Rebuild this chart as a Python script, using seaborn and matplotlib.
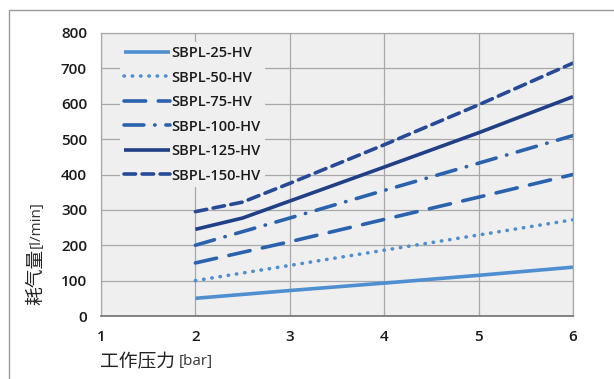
import numpy as np
import pandas as pd
import matplotlib.pyplot as plt
import seaborn as sns
from matplotlib.patches import Rectangle

# pressure [bar] and air consumption [l/min]
pressure = [2, 3, 4, 5, 6]
pressure_kink = [2, 2.5, 3, 4, 5, 6]
sbpl25 = [50, 72, 93, 115, 138]
sbpl50 = [100, 143, 186, 229, 272]
sbpl75 = [150, 210, 273, 336, 400]
sbpl100 = [200, 277, 355, 432, 510]
sbpl125 = [245, 277, 325, 421, 518, 620]
sbpl150 = [295, 322, 375, 484, 597, 715]

names = ['SBPL-25-HV', 'SBPL-50-HV', 'SBPL-75-HV', 'SBPL-100-HV', 'SBPL-125-HV', 'SBPL-150-HV']
xs = [pressure, pressure, pressure, pressure, pressure_kink, pressure_kink]
ys = [sbpl25, sbpl50, sbpl75, sbpl100, sbpl125, sbpl150]

rows = []
for n, x, y in zip(names, xs, ys):
    for a, b in zip(x, y):
        rows.append({'p': a, 'q': b, 'model': n})
df = pd.DataFrame(rows)

colors = {'SBPL-25-HV': '#4f8fd0', 'SBPL-50-HV': '#4f8fd0', 'SBPL-75-HV': '#2a62ad',
          'SBPL-100-HV': '#2a62ad', 'SBPL-125-HV': '#203f86', 'SBPL-150-HV': '#264a98'}
dashes = {'SBPL-25-HV': '', 'SBPL-50-HV': (0.1, 2.2), 'SBPL-75-HV': (6, 3.5),
          'SBPL-100-HV': (5.5, 3, 0.1, 3), 'SBPL-125-HV': '', 'SBPL-150-HV': (3.2, 1.8)}

sns.set_style('white')
plt.rcParams['font.family'] = ['Open Sans', 'Noto Sans CJK SC', 'DejaVu Sans']

fig = plt.figure(figsize=(6.14, 3.79), dpi=100)
ax = fig.add_axes([101/614, 1-316/379, 472/614, 283/379])
ax.set_facecolor('#efefef')

sns.lineplot(data=df, x='p', y='q', hue='model', style='model', palette=colors,
             dashes=dashes, hue_order=names, style_order=names, lw=2.6, ax=ax, legend=True)
for ln in ax.get_lines():
    ln.set_dash_capstyle('round')
    ln.set_solid_capstyle('butt')

ax.set_xlim(1, 6)
ax.set_ylim(0, 800)
ax.set_xticks([1, 2, 3, 4, 5, 6])
ax.set_yticks(range(0, 801, 100))
ax.grid(True, color='#a8a8a8', lw=0.9)
ax.set_axisbelow(True)
for s in ['top', 'right', 'left']:
    ax.spines[s].set_color('#a8a8a8')
    ax.spines[s].set_linewidth(0.9)
ax.spines['bottom'].set_color('#707070')
ax.spines['bottom'].set_linewidth(1.2)
ax.tick_params(length=0, labelsize=11, colors='#1a1a1a', pad=10)
plt.setp(ax.get_xticklabels() + ax.get_yticklabels(), fontweight='semibold')
ax.set_xlabel('')
ax.set_ylabel('')

h, l = ax.get_legend_handles_labels()
for hh in h:
    hh.set_dash_capstyle('round')
leg = ax.legend(h, l, loc='upper left', bbox_to_anchor=(0.025, 0.995), frameon=True,
                fontsize=10.5, handlelength=3.1, handletextpad=0.1, labelspacing=0.72,
                borderpad=0.3, prop={'size': 10.5, 'weight': 'semibold'})
leg.get_frame().set_facecolor('#efefef')
leg.get_frame().set_edgecolor('none')
leg.get_frame().set_alpha(1)
for t in leg.get_texts():
    t.set_color('#1a1a1a')

# axis titles
fig.text(100/614, 1-362/379, '工作压力', fontsize=13.5, va='center', ha='left', color='#222222')
fig.text(179/614, 1-362/379, '[bar]', fontsize=11, va='center', ha='left', color='#333333')
fig.text(36/614, 1-305/379, '耗气量', fontsize=13.5, va='bottom', ha='center', rotation=90, color='#222222')
fig.text(36/614, 1-248/379, '[l/min]', fontsize=11, va='bottom', ha='center', rotation=90, color='#333333')

# outer frame
fig.patches.append(Rectangle((9/614, -0.05), 1.1, 1-10/379+0.05, transform=fig.transFigure,
                             fill=False, edgecolor='#9a9a9a', lw=1.0))

fig.savefig('out.png', dpi=100)
